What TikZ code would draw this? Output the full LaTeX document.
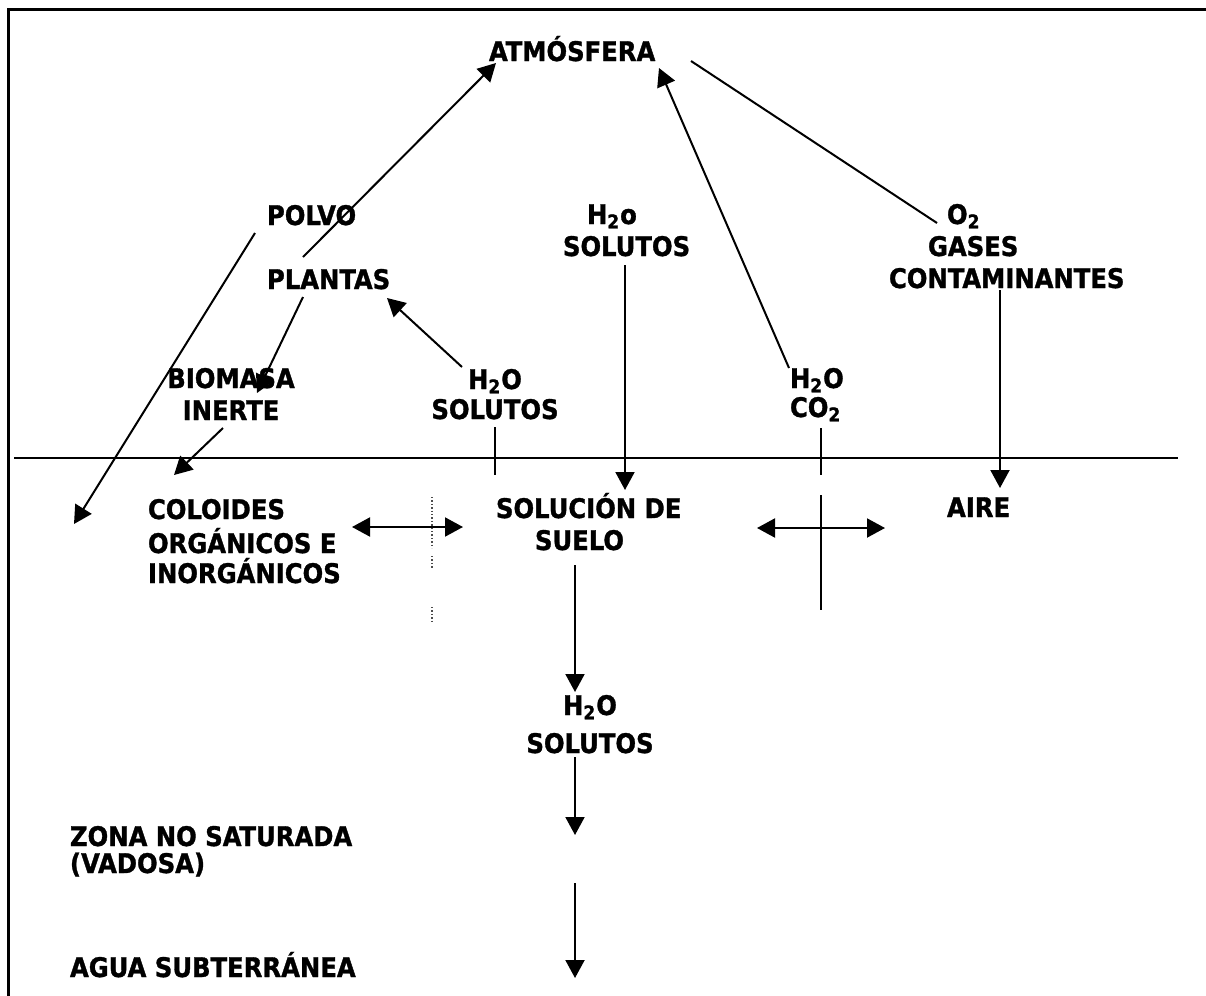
\documentclass[tikz,border=0pt]{standalone}
\usepackage{fontspec}
\setmainfont{DejaVu Sans Condensed}[BoldFeatures={FakeBold=1.2}]
\usetikzlibrary{arrows.meta}
\begin{document}
\begin{tikzpicture}[x=0.5pt,y=-0.5pt,
  lab/.style={font=\bfseries\fontsize{13.5pt}{16pt}\selectfont, inner sep=0pt, outer sep=0pt},
  con/.style={line width=1pt},
  tip/.tip={Triangle[length=9pt,width=9.5pt]},
  arr/.style={con,-tip},
  darr/.style={con,tip-tip},
  dots/.style={line width=0.7pt, densely dotted, black!70}]
\useasboundingbox (0,0) rectangle (1206,996);
\fill[white] (0,0) rectangle (1206,996);
% frame and ground surface
\draw[line width=1.5pt, line join=miter] (1206,9) -- (8,9) -- (8,996);
\draw[line width=1.2pt] (14,458) -- (1178,458);

% labels (multi-line nodes are anchored at the baseline of their last line)
\node[lab,anchor=base west] (atm) at (489,61) {ATMÓSFERA};
\node[lab,anchor=base west] (polvo) at (267,225) {POLVO};
\node[lab,anchor=base west] (plantas) at (267,289) {PLANTAS};
\node[lab,anchor=base,align=center] (biomasa) at (231,420) {BIOMASA\\INERTE};
\node[lab,anchor=base west,align=left] (coloides) at (148,583) {COLOIDES\\[1pt]ORGÁNICOS E\\[-1pt]INORGÁNICOS};
\node[lab,anchor=base,align=center] (h2oL) at (495,419) {H\textsubscript{2}O\\[-1pt]SOLUTOS};
\node[lab,anchor=base west,align=left] (h2oM) at (563,256) {\hspace*{12pt}H\textsubscript{2}o\\SOLUTOS};
\node[lab,anchor=base west,align=left] (h2oC) at (790,417) {H\textsubscript{2}O\\[-1.5pt]CO\textsubscript{2}};
\node[lab,anchor=base west,align=left] (gases) at (889,288) {\hspace*{29pt}O\textsubscript{2}\\\hspace*{19.5pt}GASES\\CONTAMINANTES};
\node[lab,anchor=base west,align=left] (solucion) at (496,550) {SOLUCIÓN DE\\\hspace*{19.5pt}SUELO};
\node[lab,anchor=base west] (aire) at (947,517) {AIRE};
\node[lab,anchor=base,align=center] (h2oB) at (590,753) {H\textsubscript{2}O\\[3pt]SOLUTOS};
\node[lab,anchor=base west,align=left] (zona) at (70,873) {ZONA NO SATURADA\\[-2.5pt](VADOSA)};
\node[lab,anchor=base west] (agua) at (70,977) {AGUA SUBTERRÁNEA};

% connector end points
\coordinate (polvoT) at (255,233);
\coordinate (soilL) at (74,524);
\coordinate (plantasT) at (303,257);
\coordinate (atmL) at (496,63);
\coordinate (h2oCT) at (789,368);
\coordinate (atmR) at (659,68);
\coordinate (atmE) at (691,61);
\coordinate (gasesT) at (937,223);
\coordinate (plantasB) at (303,297);
\coordinate (biomasaT) at (257,393);
\coordinate (h2oLT) at (462,367);
\coordinate (plantasR) at (387,298);
\coordinate (inerteB) at (223,428);
\coordinate (coloidesT) at (174,475);
\coordinate (h2oLB) at (495,427);
\coordinate (h2oLE) at (495,475);
\coordinate (h2oMB) at (625,265);
\coordinate (solucionT) at (625,490);
\coordinate (gasesB) at (1000,290);
\coordinate (aireT) at (1000,488);
\coordinate (h2oCB) at (821,428);
\coordinate (h2oCE) at (821,475);
\coordinate (crossT) at (821,495);
\coordinate (crossB) at (821,610);
\coordinate (coloidesR) at (352,527);
\coordinate (solucionL) at (463,527);
\coordinate (solucionR) at (757,528);
\coordinate (aireL) at (885,528);
\coordinate (sueloB) at (575,565);
\coordinate (h2oBT) at (575,692);
\coordinate (h2oBB) at (575,757);
\coordinate (zonaE) at (575,835);
\coordinate (zonaB) at (575,883);
\coordinate (aguaE) at (575,978);

% connectors
\draw[arr] (polvoT) -- (soilL);
\draw[arr] (plantasT) -- (atmL);
\draw[arr] (h2oCT) -- (atmR);
\draw[con] (atmE) -- (gasesT);
\draw[arr] (plantasB) -- (biomasaT);
\draw[arr] (h2oLT) -- (plantasR);
\draw[arr] (inerteB) -- (coloidesT);
\draw[con] (h2oLB) -- (h2oLE);
\draw[arr] (h2oMB) -- (solucionT);
\draw[arr] (gasesB) -- (aireT);
\draw[con] (h2oCB) -- (h2oCE);
\draw[con] (crossT) -- (crossB);
\draw[darr] (coloidesR) -- (solucionL);
\draw[darr] (solucionR) -- (aireL);
\draw[arr] (sueloB) -- (h2oBT);
\draw[arr] (h2oBB) -- (zonaE);
\draw[arr] (zonaB) -- (aguaE);

% dotted mark between colloids and soil solution
\coordinate (dotA) at (432,497);
\coordinate (dotB) at (432,548);
\coordinate (dotC) at (432,556);
\coordinate (dotD) at (432,568);
\coordinate (dotE) at (432,607);
\coordinate (dotF) at (432,621);
\draw[dots] (dotA) -- (dotB);
\draw[dots] (dotC) -- (dotD);
\draw[dots] (dotE) -- (dotF);
\end{tikzpicture}
\end{document}
